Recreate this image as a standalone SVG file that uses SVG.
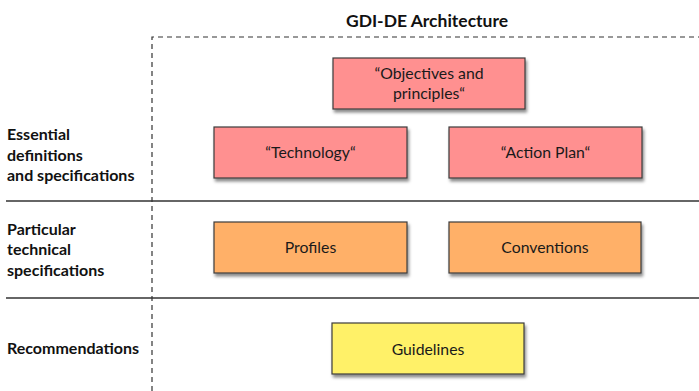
<svg xmlns="http://www.w3.org/2000/svg" width="699" height="391" viewBox="0 0 699 391">
<defs>
<filter id="sh" x="-10%" y="-10%" width="130%" height="140%">
<feDropShadow dx="1.5" dy="3" stdDeviation="1.8" flood-color="#000" flood-opacity="0.45"/>
</filter>
<style>
.box{stroke:#3c3c3c;stroke-width:1.2;filter:url(#sh)}
.red{fill:#ff9090}
.org{fill:#ffb068}
.yel{fill:#fff168}
.bt{font-family:Lato,"Open Sans",sans-serif;font-size:15.8px;fill:#1a1a1a;text-anchor:middle}
.lab{font-family:Lato,"Open Sans",sans-serif;font-size:16px;font-weight:bold;fill:#111}
.sep{stroke:#333;stroke-width:1.3}
.dash{stroke:#333;stroke-width:1.2;stroke-dasharray:5,4;fill:none}
</style>
</defs>
<rect width="699" height="391" fill="#fff"/>
<text x="427" y="27" font-family="Lato,'Open Sans',sans-serif" font-size="17.5" font-weight="bold" fill="#111" text-anchor="middle">GDI-DE Architecture</text>
<g id="frame">
<path class="dash" d="M152,391 V37 H699"/>
<line class="sep" x1="6" y1="201" x2="699" y2="201"/>
<line class="sep" x1="6" y1="298" x2="699" y2="298"/>
</g>
<g id="labels">
<text class="lab" x="7" y="140">Essential</text>
<text class="lab" x="7" y="161">definitions</text>
<text class="lab" x="7" y="181">and specifications</text>
<text class="lab" x="7" y="235">Particular</text>
<text class="lab" x="7" y="255">technical</text>
<text class="lab" x="7" y="276">specifications</text>
<text class="lab" x="7" y="354">Recommendations</text>
</g>
<g id="connectors"></g>
<g id="objectives">
<rect class="box red" x="333" y="58" width="192" height="51"/>
<text class="bt" x="429" y="79">“Objectives and</text>
<text class="bt" x="429" y="99">principles“</text>
</g>
<g id="technology">
<rect class="box red" x="214" y="127" width="193" height="51"/>
<text class="bt" x="310.5" y="158">“Technology“</text>
</g>
<g id="actionplan">
<rect class="box red" x="449" y="127" width="193" height="51"/>
<text class="bt" x="545.5" y="158">“Action Plan“</text>
</g>
<g id="profiles">
<rect class="box org" x="214" y="222" width="193" height="51"/>
<text class="bt" x="310.5" y="253">Profiles</text>
</g>
<g id="conventions">
<rect class="box org" x="449" y="222" width="192" height="51"/>
<text class="bt" x="545" y="253">Conventions</text>
</g>
<g id="guidelines">
<rect class="box yel" x="332" y="323" width="192" height="51"/>
<text class="bt" x="428" y="355">Guidelines</text>
</g>
</svg>
